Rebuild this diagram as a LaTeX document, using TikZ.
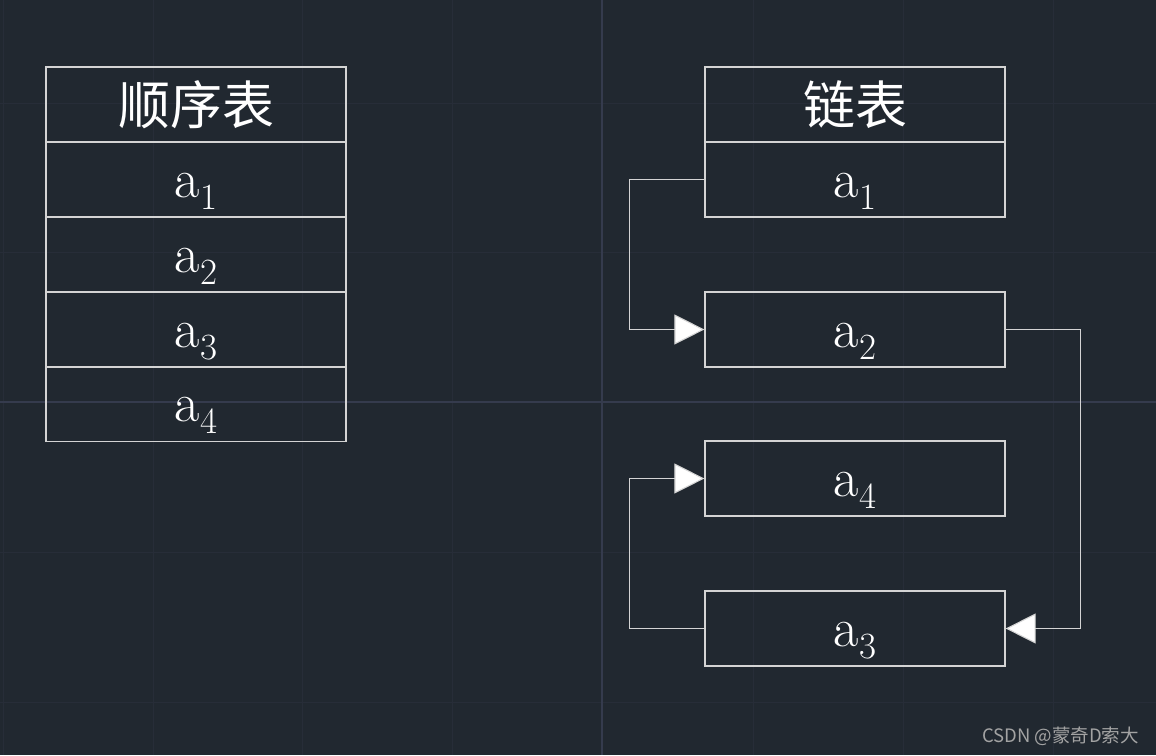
\documentclass[tikz,border=0pt]{standalone}
\usepackage{fontspec}
\newfontfamily\cjk{Noto Sans CJK SC}
\usetikzlibrary{arrows.meta}
\definecolor{bg}{HTML}{212830}
\definecolor{minorgrid}{HTML}{272D38}
\definecolor{majorgrid}{HTML}{353B4D}
\definecolor{boxline}{HTML}{D4D4D4}
\definecolor{wm}{HTML}{A3A3A3}
\newcommand\subidx[1]{\raisebox{-12pt}{\fontsize{37}{37}\selectfont #1}}
\tikzset{
  cell/.style={draw=boxline, line width=1.2pt, minimum width=300pt, minimum height=75pt, inner sep=0pt, text=white},
  title/.style={font=\cjk\fontsize{52}{60}\selectfont},
  item/.style={font=\fontsize{55}{60}\selectfont, text=white, inner sep=0pt, anchor=base},
  link/.style={draw=boxline, line width=1.1pt, -{Triangle[length=30pt,width=30pt,fill=white]}},
}
\begin{document}
\begin{tikzpicture}[x=1pt,y=-1pt]
\fill[bg] (0,0) rectangle (1156,755);
\useasboundingbox (0,0) rectangle (1156,755);
% grid
\foreach \gx in {3,153,302,452,753,903,1053}
  \draw[minorgrid, line width=1pt] (\gx,0) -- (\gx,755);
\foreach \gy in {103,252,552,702}
  \draw[minorgrid, line width=1pt] (0,\gy) -- (1156,\gy);
\draw[majorgrid, line width=1.2pt] (602,0) -- (602,755);
\draw[majorgrid, line width=1.2pt] (0,402) -- (1156,402);
% left table
\node[cell, title] (lh) at (196,104.5) {顺序表};
\node[cell] (l1) at (196,179.5) {};
\node[cell] (l2) at (196,254.5) {};
\node[cell] (l3) at (196,329.5) {};
\node[cell] (l4) at (196,404) {};
\node[item] (tl1) at ([yshift=-17.5pt]l1.center) {a\subidx{1}};
\node[item] (tl2) at ([yshift=-17.5pt]l2.center) {a\subidx{2}};
\node[item] (tl3) at ([yshift=-17.5pt]l3.center) {a\subidx{3}};
\node[item] (tl4) at ([yshift=-17.5pt]l4.center) {a\subidx{4}};
% right list
\node[cell, title] (rh) at (855,104.5) {链表};
\node[cell] (r1) at (855,179.5) {};
\node[cell] (r2) at (855,329.5) {};
\node[cell] (r4) at (855,478.5) {};
\node[cell] (r3) at (855,628.5) {};
\node[item] (tr1) at ([yshift=-17.5pt]r1.center) {a\subidx{1}};
\node[item] (tr2) at ([yshift=-17.5pt]r2.center) {a\subidx{2}};
\node[item] (tr4) at ([yshift=-17.5pt]r4.center) {a\subidx{4}};
\node[item] (tr3) at ([yshift=-17.5pt]r3.center) {a\subidx{3}};
% connectors
\draw[link] (r1.west) -- ++(-75,0) |- (r2.west);
\draw[link] (r2.east) -- ++(75,0) |- (r3.east);
\draw[link] (r3.west) -- ++(-75,0) |- (r4.west);
% watermark
\node[anchor=east, text=wm, font=\cjk\fontsize{18.5}{20}\selectfont, inner sep=0pt] (wmk) at (1139,736) {CSDN @蒙奇D索大};
\end{tikzpicture}
\end{document}
